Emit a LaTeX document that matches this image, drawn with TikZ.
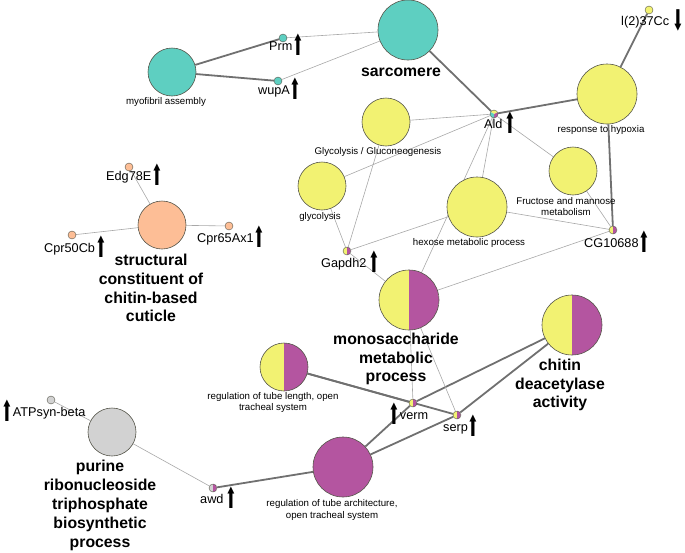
\documentclass[tikz,border=0pt]{standalone}
\usepackage{fontspec}
\setmainfont{Liberation Sans}
\newfontfamily\arrowfont{DejaVu Sans}
\usepackage{graphicx}
\usetikzlibrary{backgrounds}
\definecolor{cteal}{HTML}{5ECFC1}
\definecolor{cyel}{HTML}{F2F272}
\definecolor{cmag}{HTML}{B455A0}
\definecolor{corg}{HTML}{FDBE96}
\definecolor{cgray}{HTML}{D2D2D2}
\definecolor{outl}{HTML}{55554A}
\definecolor{edark}{HTML}{707070}
\definecolor{elight}{HTML}{A8A8A8}
\newcommand\uparr{\raisebox{-5.5pt}{\scalebox{1.1}[2.25]{\arrowfont ⬆}}}
\newcommand\dnarr{\raisebox{-5.5pt}{\scalebox{1.1}[2.25]{\arrowfont ⬇}}}
\begin{document}
\begin{tikzpicture}[x=1pt,y=-1pt,
  term/.style={circle, draw=outl, line width=0.6pt, inner sep=0pt, minimum size=#1},
  gene/.style={circle, draw=outl, line width=0.4pt, inner sep=0pt, minimum size=8pt},
  glab/.style={font=\fontsize{12.7}{14}\selectfont, inner sep=0pt, anchor=base west},
  slab/.style={font=\fontsize{9.7}{11.5}\selectfont, inner sep=0pt, align=center},
  blab/.style={font=\fontsize{15.8}{18.8}\selectfont\bfseries, inner sep=0pt, align=center},
  hv/.style={draw=edark, line width=1.8pt},
  lt/.style={draw=elight, line width=0.6pt},
  halfym/.style={path picture={
    \fill[cyel] (path picture bounding box.north west) rectangle (path picture bounding box.south);
    \fill[cmag] (path picture bounding box.north) rectangle (path picture bounding box.south east);}},
  halfgm/.style={path picture={
    \fill[cgray] (path picture bounding box.north west) rectangle (path picture bounding box.south);
    \fill[cmag] (path picture bounding box.north) rectangle (path picture bounding box.south east);}},
  tri/.style={path picture={
    \fill[cmag] (path picture bounding box.center) -- ++(-90:6pt) arc[start angle=-90,end angle=30,radius=6pt] -- cycle;
    \fill[cyel] (path picture bounding box.center) -- ++(30:6pt) arc[start angle=30,end angle=150,radius=6pt] -- cycle;
    \fill[cteal] (path picture bounding box.center) -- ++(150:6pt) arc[start angle=150,end angle=270,radius=6pt] -- cycle;}}
]
\useasboundingbox (0,0) rectangle (685,552);

% term nodes
\node[term=60pt, fill=cteal] (sar) at (408,30) {};
\node[term=48pt, fill=cteal] (myo) at (172,72) {};
\node[term=60pt, fill=cyel] (hyp) at (607,94) {};
\node[term=48pt, fill=cyel] (glg) at (386,122) {};
\node[term=48pt, fill=cyel] (gly) at (322,186) {};
\node[term=60pt, fill=cyel] (hex) at (477,207) {};
\node[term=48pt, fill=cyel] (fru) at (573,171) {};
\node[term=60pt, halfym] (mono) at (409,300) {};
\node[term=48pt, halfym] (tlen) at (284,367) {};
\node[term=60pt, halfym] (chit) at (572,325) {};
\node[term=60pt, fill=cmag] (tarch) at (343,467) {};
\node[term=48pt, fill=cgray] (pur) at (112,432) {};
\node[term=48pt, fill=corg] (struc) at (162,225) {};

% gene nodes
\node[gene, fill=cteal] (prm) at (283,38) {};
\node[gene, fill=cteal] (wupa) at (278,81) {};
\node[gene, tri] (ald) at (494,114) {};
\node[gene, fill=cyel] (l237) at (649,10) {};
\node[gene, halfym] (gapdh) at (347,251) {};
\node[gene, halfym] (cg) at (613,230) {};
\node[gene, halfym] (verm) at (413,403) {};
\node[gene, halfym] (serp) at (457,415) {};
\node[gene, halfgm] (awd) at (213,488) {};
\node[gene, fill=cgray] (atp) at (51,400) {};
\node[gene, fill=corg] (edg) at (129,167) {};
\node[gene, fill=corg] (c50) at (72,235) {};
\node[gene, fill=corg] (c65) at (229,226) {};

% edges
\begin{scope}[on background layer]
\draw[hv] (myo) -- (prm);
\draw[hv] (myo) -- (wupa);
\draw[hv] (sar) -- (ald);
\draw[hv] (ald) -- (hyp);
\draw[hv] (hyp) -- (l237);
\draw[hv] (hyp) -- (cg);
\draw[hv] (tlen) -- (verm);
\draw[hv] (tlen) -- (serp);
\draw[hv] (chit) -- (verm);
\draw[hv] (chit) -- (serp);
\draw[hv] (tarch) -- (verm);
\draw[hv] (tarch) -- (serp);
\draw[hv] (tarch) -- (awd);
\draw[lt] (prm) -- (sar);
\draw[lt] (wupa) -- (sar);
\draw[lt] (ald) -- (glg);
\draw[lt] (ald) -- (gly);
\draw[lt] (ald) -- (hex);
\draw[lt] (ald) -- (fru);
\draw[lt] (ald) -- (mono);
\draw[lt] (gapdh) -- (gly);
\draw[lt] (gapdh) -- (glg);
\draw[lt] (gapdh) -- (hex);
\draw[lt] (gapdh) -- (mono);
\draw[lt] (cg) -- (fru);
\draw[lt] (cg) -- (hex);
\draw[lt] (cg) -- (mono);
\draw[lt] (mono) -- (verm);
\draw[lt] (mono) -- (serp);
\draw[lt] (struc) -- (edg);
\draw[lt] (struc) -- (c50);
\draw[lt] (struc) -- (c65);
\draw[lt] (pur) -- (atp);
\draw[lt] (pur) -- (awd);
\end{scope}

% gene labels (base west at baseline)
\node[glab] (prml) at (269,50) {Prm\uparr};
\node[glab] (wupal) at (258,94) {wupA\uparr};
\node[glab] (aldl) at (484,128) {Ald\,\uparr};
\node[glab] (l237l) at (621,25) {l(2)37Cc \dnarr};
\node[glab] (gapdhl) at (321,267) {Gapdh2\,\uparr};
\node[glab] (cgl) at (584,247) {CG10688\uparr};
\node[glab] (edgl) at (106,180) {Edg78E\uparr};
\node[glab] (c50l) at (44,252) {Cpr50Cb\uparr};
\node[glab] (c65l) at (197,242) {Cpr65Ax1\uparr};
\node[glab] (verml) at (388,419) {\uparr verm};
\node[glab] (serpl) at (443,431) {serp\uparr};
\node[glab] (awdl) at (200,503) {awd\,\uparr};
\node[glab] (atpl) at (1,416) {\uparr ATPsyn-beta};

% term labels
\node[blab] (sarl) at (401,72) {sarcomere};
\node[slab] (myol) at (166,102) {myofibril assembly};
\node[slab] (hypl) at (601,130) {response to hypoxia};
\node[slab] (glgl) at (378,152) {Glycolysis / Gluconeogenesis};
\node[slab] (glyl) at (320,217) {glycolysis};
\node[slab] (hexl) at (469,243) {hexose metabolic process};
\node[slab] (frul) at (566,206.5) {Fructose and mannose\\metabolism};
\node[slab] (tlenl) at (273,402.5) {regulation of tube length, open\\tracheal system};
\node[slab] (tarchl) at (332,510) {regulation of tube architecture,\\open tracheal system};
\node[blab] (strucl) at (151,288) {structural\\constituent of\\chitin-based\\cuticle};
\node[blab] (monol) at (396,359) {monosaccharide\\metabolic\\process};
\node[blab] (chitl) at (560,385) {chitin\\deacetylase\\activity};
\node[blab] (purl) at (100,505.5) {purine\\ribonucleoside\\triphosphate\\biosynthetic\\process};
\end{tikzpicture}
\end{document}
